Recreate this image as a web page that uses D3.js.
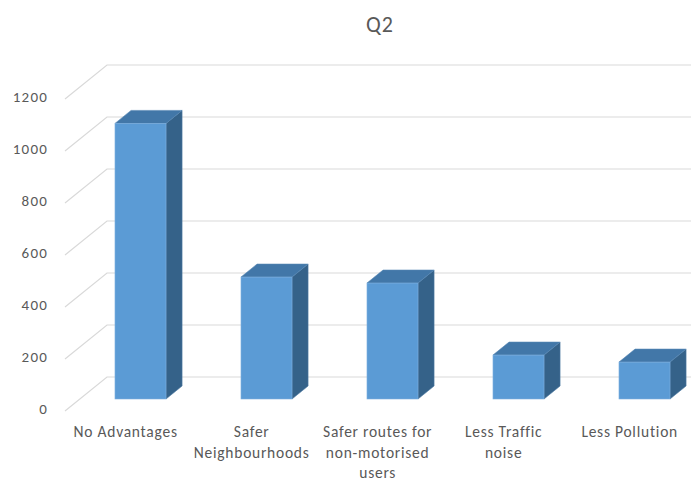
<!DOCTYPE html>
<html>
<head>
<meta charset="utf-8">
<script src="https://cdn.jsdelivr.net/npm/d3@7"></script>
<style>
  html, body { margin: 0; padding: 0; background: #fff; }
  svg { display: block; }
  text { font-family: Carlito, Calibri, Lato, sans-serif; fill: #595959; }
</style>
</head>
<body>
<svg id="chart" width="691" height="481"></svg>
<script>
// Survey answers for Q2
const categoryLines = [
  ["No Advantages"],
  ["Safer", "Neighbourhoods"],
  ["Safer routes for", "non-motorised", "users"],
  ["Less Traffic", "noise"],
  ["Less Pollution"]
];
const categories = categoryLines.map(l => l.join(" "));
const values = [1060, 469, 446, 169, 142];
const yTicks = [0, 200, 400, 600, 800, 1000, 1200];
const title = "Q2";

const W = 691, H = 481;
const svg = d3.select("#chart");

// Oblique 3D projection: the side wall runs from the front edge to the back wall
const wallDx = 42, wallDy = 34;     // front edge -> back wall offset
const barFrontZ = 12 / 34;          // depth of the bar's front face (0 = front, 1 = back wall)
const barDepthZ = 13 / 34;          // depth of each column
const sideX0 = 65;                  // x of the side wall's front edge

// value scale on the plane of the bars' front faces
const y = d3.scaleLinear().domain([0, 1200]).range([399, 87]);
const yFront = v => y(v) + barFrontZ * wallDy;
const yBack = v => y(v) - (1 - barFrontZ) * wallDy;

// column positions
const x = d3.scaleBand().domain(categories)
  .range([77.5, 707.5]).paddingInner(0.595).paddingOuter(0.2975);
// category labels are centred under each column, projected onto the floor's front edge
const labelX = c => x(c) + x.bandwidth() / 2 - barFrontZ * wallDx;

const grid = svg.append("g").attr("stroke", "#d9d9d9").attr("stroke-width", 1.2).attr("fill", "none");
yTicks.forEach(t => {
  grid.append("path").attr("d", d3.line()([
    [sideX0, yFront(t)], [sideX0 + wallDx, yBack(t)], [W, yBack(t)]
  ]));
});

// value axis labels
svg.append("g").selectAll("text").data(yTicks).join("text")
  .attr("x", 48).attr("y", d => yFront(d) - 2)
  .attr("text-anchor", "end").attr("dominant-baseline", "central")
  .style("font-size", "15px").style("letter-spacing", "1.2px")
  .text(d => d);

// columns
const dx = barDepthZ * wallDx, dy = barDepthZ * wallDy;
const bars = svg.append("g").selectAll("g").data(categories).join("g");
bars.each(function (c, i) {
  const g = d3.select(this);
  const x0 = x(c), x1 = x0 + x.bandwidth();
  const yt = y(values[i]), yb = y(0);
  const line = d3.line();
  g.append("path").attr("d", line([[x1, yt], [x1 + dx, yt - dy], [x1 + dx, yb - dy], [x1, yb]]) + "Z")
    .attr("fill", "#356289").attr("stroke", "#4d7aa3").attr("stroke-width", 0.6);
  g.append("path").attr("d", line([[x0, yt], [x0 + dx, yt - dy], [x1 + dx, yt - dy], [x1, yt]]) + "Z")
    .attr("fill", "#4277a8").attr("stroke", "#5686b4").attr("stroke-width", 0.6);
  g.append("rect").attr("x", x0).attr("y", yt).attr("width", x.bandwidth()).attr("height", yb - yt)
    .attr("fill", "#5b9bd5").attr("stroke", "#7fb0de").attr("stroke-width", 0.6);
});

// category labels
const labels = svg.append("g").selectAll("text").data(categoryLines).join("text")
  .attr("text-anchor", "middle")
  .style("font-size", "15.5px").style("letter-spacing", "0.75px");
labels.each(function (lines, i) {
  const cx = labelX(categories[i]);
  d3.select(this).selectAll("tspan").data(lines).join("tspan")
    .attr("x", cx).attr("y", (d, j) => 437 + j * 20.5)
    .text(d => d);
});

// title
svg.append("text").attr("x", 380).attr("y", 32).attr("text-anchor", "middle")
  .style("font-size", "22px").style("letter-spacing", "1px").text(title);
</script>
</body>
</html>
